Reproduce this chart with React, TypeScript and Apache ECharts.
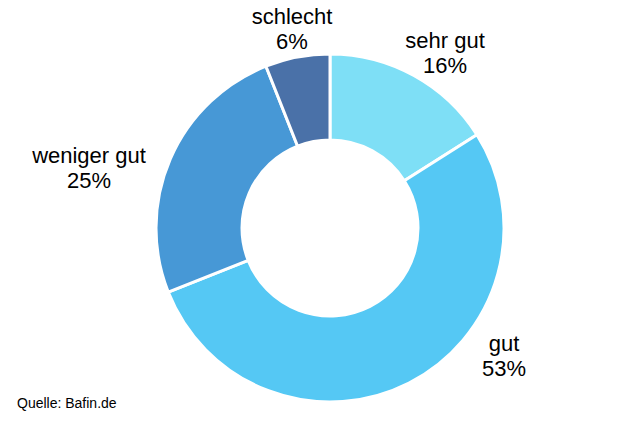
import { useEffect, useRef } from 'react';
import * as echarts from 'echarts';

const categories = ['sehr gut', 'gut', 'weniger gut', 'schlecht'];
const shares = [16, 53, 25, 6];
const colors = ['#7edff6', '#55c8f4', '#4798d6', '#4a71a8'];
// label centres for each slice (pixel positions of the text blocks)
const labelPos: [number, number][] = [
  [445, 53],
  [504, 356],
  [89, 168],
  [292, 29],
];

export default function App() {
  const chartRef = useRef<HTMLDivElement>(null);

  useEffect(() => {
    if (!chartRef.current) return;
    const chart = echarts.init(chartRef.current, undefined, { renderer: 'svg' });

    const option: echarts.EChartsOption = {
      animation: false,
      backgroundColor: '#ffffff',
      textStyle: { fontFamily: 'Liberation Sans, Arial, sans-serif' },
      graphic: [
        {
          type: 'text',
          left: 17,
          top: 396,
          style: {
            text: 'Quelle: Bafin.de',
            fill: '#000',
            fontSize: 14,
            fontFamily: 'Liberation Sans, Arial, sans-serif',
          },
        },
      ],
      series: [
        {
          type: 'pie',
          center: [330, 228],
          radius: [88, 174],
          startAngle: 90,
          clockwise: true,
          silent: true,
          itemStyle: { borderColor: '#ffffff', borderWidth: 3 },
          label: {
            show: true,
            position: 'outside',
            formatter: '{b}\n{c}%',
            color: '#000',
            fontSize: 22,
            lineHeight: 25,
            align: 'center',
            overflow: 'none',
            width: 200,
            fontFamily: 'Liberation Sans, Arial, sans-serif',
          },
          labelLine: { show: false },
          labelLayout: (params: any) => ({
            x: labelPos[params.dataIndex][0],
            y: labelPos[params.dataIndex][1],
            align: 'center',
            verticalAlign: 'middle',
          }),
          data: categories.map((name, i) => ({
            name,
            value: shares[i],
            itemStyle: { color: colors[i] },
          })),
        },
      ],
    };

    chart.setOption(option);
    return () => chart.dispose();
  }, []);

  return (
    <div
      ref={chartRef}
      style={{ position: 'fixed', left: 0, top: 0, width: 622, height: 425 }}
    />
  );
}
